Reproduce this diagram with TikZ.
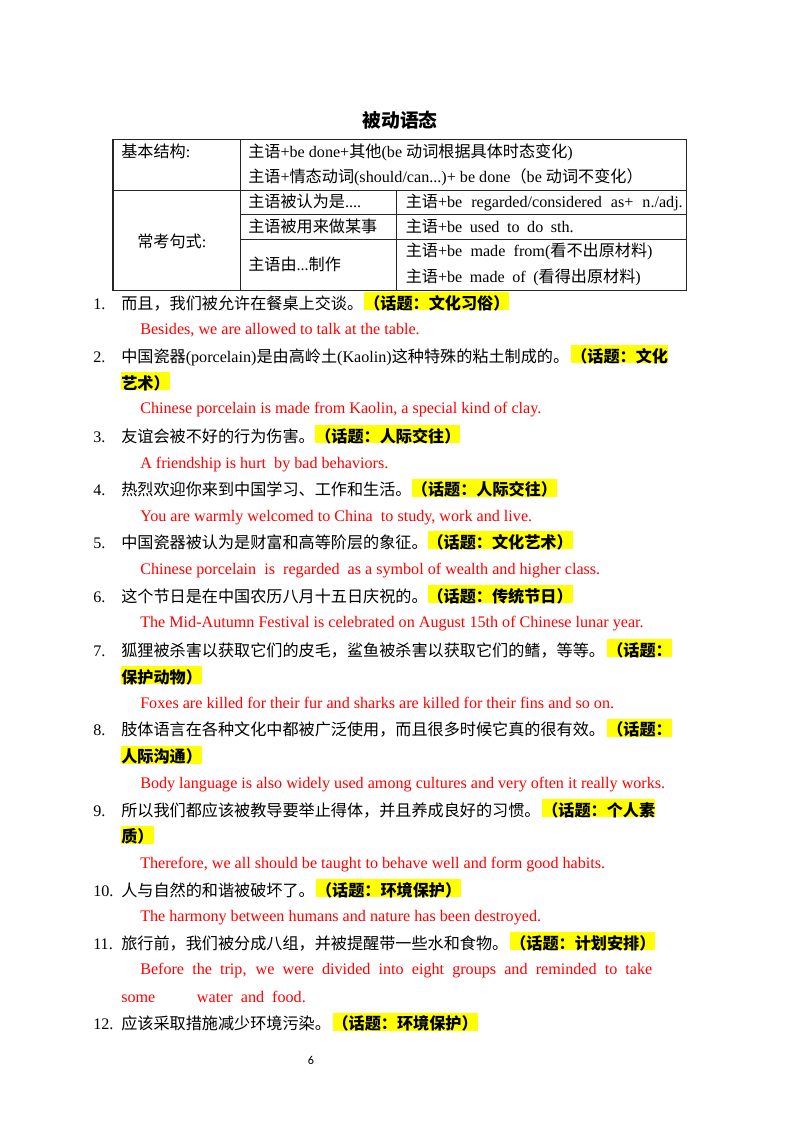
\documentclass[tikz,border=0pt]{standalone}
\usepackage{fontspec}
\setmainfont{Liberation Serif}
\newfontfamily\cjkfont{Noto Sans CJK SC}
\newfontfamily\pagefont{Carlito}
\newcommand\zh[1]{{\cjkfont #1}}
\definecolor{entext}{RGB}{255,0,0}
\definecolor{hlyellow}{RGB}{255,255,0}
\tikzset{
  txt/.style={anchor=base west, inner sep=0pt, font=\fontsize{12pt}{14pt}\selectfont},
  num/.style={txt},
  cn/.style={txt},
  en/.style={txt, text=entext},
  topic/.style={txt, fill=hlyellow, text height=12.7pt, text depth=1pt,
    font=\fontsize{12pt}{14pt}\selectfont\cjkfont\bfseries},
  rule/.style={draw=black!85, line width=0.75pt},
}
\begin{document}
\begin{tikzpicture}[x=0.7441pt,y=-0.7441pt]
\useasboundingbox[fill=white] (0,0) rectangle (800,1132);

% title
\node[inner sep=0pt, font=\fontsize{14pt}{16pt}\selectfont\cjkfont\bfseries] (title) at (400,120) {被动语态};

% table frame
\draw[rule] (113,139) rectangle (686,290);
\draw[rule] (113,190) -- (686,190);
\draw[rule] (240.3,139) -- (240.3,290);
\draw[rule] (396.7,190) -- (396.7,290);
\draw[rule] (240.3,214.7) -- (686,214.7);
\draw[rule] (240.3,239.7) -- (686,239.7);

% table texts
\node[cn] (tA) at (121,157.8) {\zh{基本结构}:};
\node[cn] (tB1) at (248,157.8) {\zh{主语}+be done+\zh{其他}(be \zh{动词根据具体时态变化})};
\node[cn] (tB2) at (248,182.8) {\zh{主语}+\zh{情态动词}(should/can...)+ be done\zh{（}be \zh{动词不变化）}};
\node[cn] (tC) at (137,247.3) {\zh{常考句式}:};
\node[cn] (tD1) at (248,207.8) {\zh{主语被认为是}....};
\node[cn] (tD2) at (248,232.8) {\zh{主语被用来做某事}};
\node[cn] (tD3) at (248,270.1) {\zh{主语由}...\zh{制作}};
\node[cn] (tE1) at (405.5,207.8) {\makebox[206.1pt][s]{\zh{主语}+be regarded/considered as+ n./adj.}};
\node[cn] (tE2) at (405.5,232.8) {\makebox[125pt][s]{\zh{主语}+be used to do sth.}};
\node[cn] (tE3) at (405.5,256.1) {\makebox[183.6pt][s]{\zh{主语}+be made from(\zh{看不出原材料})}};
\node[cn] (tE4) at (405.5,282.8) {\makebox[174.9pt][s]{\zh{主语}+be made of (\zh{看得出原材料})}};

% 1
\node[num] (n1) at (93,309.1) {1.};
\node[cn] (c1) at (121,309.1) {\zh{而且，我们被允许在餐桌上交谈。}};
\node[topic] (h1) at (364,309.1) {（话题：文化习俗）};
\node[en] (e1) at (140,334.3) {Besides, we are allowed to talk at the table.};
% 2
\node[num] (n2) at (93,362.1) {2.};
\node[cn] (c2) at (121,362.1) {\zh{中国瓷器}(porcelain)\zh{是由高岭土}(Kaolin)\zh{这种特殊的粘土制成的。}};
\node[topic] (h2) at (571,362.1) {（话题：文化};
\node[topic] (h2b) at (121,389.1) {艺术）};
\node[en] (e2) at (140,413.8) {Chinese porcelain is made from Kaolin, a special kind of clay.};
% 3
\node[num] (n3) at (93,442.1) {3.};
\node[cn] (c3) at (121,442.1) {\zh{友谊会被不好的行为伤害。}};
\node[topic] (h3) at (315,442.1) {（话题：人际交往）};
\node[en] (e3) at (140,468.3) {A friendship is hurt\ \ by bad behaviors.};
% 4
\node[num] (n4) at (93,495.6) {4.};
\node[cn] (c4) at (121,495.6) {\zh{热烈欢迎你来到中国学习、工作和生活。}};
\node[topic] (h4) at (411.7,495.6) {（话题：人际交往）};
\node[en] (e4) at (140,521.3) {You are warmly welcomed to China\ \ to study, work and live.};
% 5
\node[num] (n5) at (93,548.1) {5.};
\node[cn] (c5) at (121,548.1) {\zh{中国瓷器被认为是财富和高等阶层的象征。}};
\node[topic] (h5) at (427.3,548.1) {（话题：文化艺术）};
\node[en] (e5) at (140,574.3) {Chinese porcelain\ \ is\ \ regarded\ \ as a symbol of wealth and higher class.};
% 6
\node[num] (n6) at (93,602.1) {6.};
\node[cn] (c6) at (121,602.1) {\zh{这个节日是在中国农历八月十五日庆祝的。}};
\node[topic] (h6) at (427.3,602.1) {（话题：传统节日）};
\node[en] (e6) at (140,627.8) {The Mid-Autumn Festival is celebrated on August 15th of Chinese lunar year.};
% 7
\node[num] (n7) at (93,656.1) {7.};
\node[cn] (c7) at (121,656.1) {\zh{狐狸被杀害以获取它们的皮毛，鲨鱼被杀害以获取它们的鳍，等等。}};
\node[topic] (h7) at (607,656.1) {（话题：};
\node[topic] (h7b) at (121,683.1) {保护动物）};
\node[en] (e7) at (140,708.3) {Foxes are killed for their fur and sharks are killed for their fins and so on.};
% 8
\node[num] (n8) at (93,735.6) {8.};
\node[cn] (c8) at (121,735.6) {\zh{肢体语言在各种文化中都被广泛使用，而且很多时候它真的很有效。}};
\node[topic] (h8) at (607,735.6) {（话题：};
\node[topic] (h8b) at (121,762.6) {人际沟通）};
\node[en] (e8) at (140,788.8) {Body language is also widely used among cultures and very often it really works.};
% 9
\node[num] (n9) at (93,816.1) {9.};
\node[cn] (c9) at (121,816.1) {\zh{所以我们都应该被教导要举止得体，并且养成良好的习惯。}};
\node[topic] (h9) at (542,816.1) {（话题：个人素};
\node[topic] (h9b) at (121,842.6) {质）};
\node[en] (e9) at (140,868.3) {Therefore, we all should be taught to behave well and form good habits.};
% 10
\node[num] (n10) at (93,896.1) {10.};
\node[cn] (c10) at (121,896.1) {\zh{人与自然的和谐被破坏了。}};
\node[topic] (h10) at (315.8,896.1) {（话题：环境保护）};
\node[en] (e10) at (140,921.8) {The harmony between humans and nature has been destroyed.};
% 11
\node[num] (n11) at (93,949.1) {11.};
\node[cn] (c11) at (121,949.1) {\zh{旅行前，我们被分成八组，并被提醒带一些水和食物。}};
\node[topic] (h11) at (510,949.1) {（话题：计划安排）};
\node[en] (e11) at (140,974.8) {\makebox[381pt][s]{Before the trip, we were divided into eight groups and reminded to take}};
\node[en] (e11b) at (121,1002.3) {some\hspace{31pt}water\ \ and\ \ food.};
% 12
\node[num] (n12) at (93,1029.6) {12.};
\node[cn] (c12) at (121,1029.6) {\zh{应该采取措施减少环境污染。}};
\node[topic] (h12) at (332.3,1029.6) {（话题：环境保护）};

% page number
\node[inner sep=0pt, font=\pagefont\fontsize{9pt}{11pt}\selectfont] (pg) at (311,1060) {6};
\end{tikzpicture}
\end{document}
